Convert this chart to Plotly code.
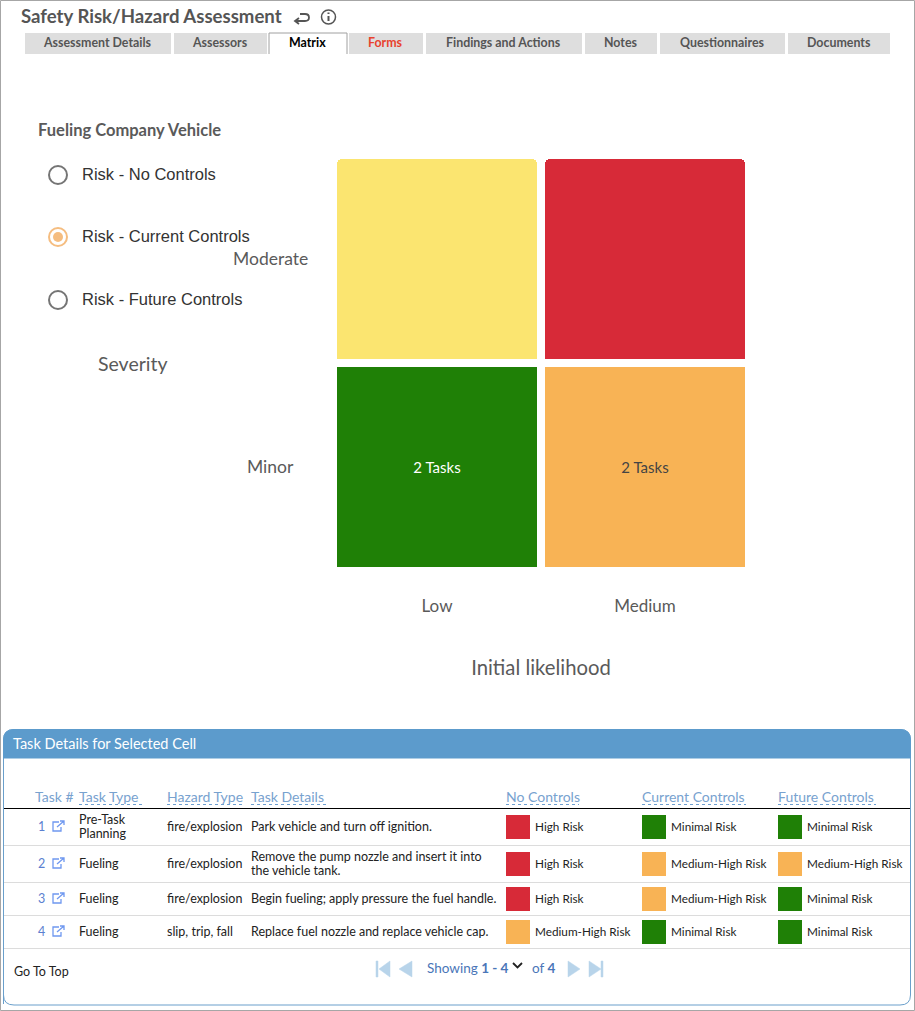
import plotly.graph_objects as go

W, H = 915, 1011
FONT = "Lato"
ARIAL = "Liberation Sans"

# matrix data
likelihood = ["Low", "Medium"]
severity = ["Minor", "Moderate"]
minor_colors = ["#1f8006", "#f8b355"]
moderate_colors = ["#fbe570", "#d72a38"]
minor_text = ["2 Tasks", "2 Tasks"]
moderate_text = ["", ""]
minor_text_colors = ["#ffffff", "#444444"]

# table data
task_numbers = ["1", "2", "3", "4"]
task_types = [["Pre-Task", "Planning"], ["Fueling"], ["Fueling"], ["Fueling"]]
hazard_types = ["fire/explosion", "fire/explosion", "fire/explosion", "slip, trip, fall"]
task_details = [
    ["Park vehicle and turn off ignition."],
    ["Remove the pump nozzle and insert it into", "the vehicle tank."],
    ["Begin fueling; apply pressure the fuel handle."],
    ["Replace fuel nozzle and replace vehicle cap."],
]
no_controls = ["High Risk", "High Risk", "High Risk", "Medium-High Risk"]
current_controls = ["Minimal Risk", "Medium-High Risk", "Medium-High Risk", "Minimal Risk"]
future_controls = ["Minimal Risk", "Medium-High Risk", "Minimal Risk", "Minimal Risk"]
risk_colors = {"High Risk": "#d72a38", "Medium-High Risk": "#f8b355", "Minimal Risk": "#1f8006"}

tabs = ["Assessment Details", "Assessors", "Matrix", "Forms", "Findings and Actions",
        "Notes", "Questionnaires", "Documents"]
tab_edges = [(25, 171), (174, 267), (269, 347), (349, 423), (426, 582), (585, 657), (660, 785), (788, 890)]
radio_labels = ["Risk - No Controls", "Risk - Current Controls", "Risk - Future Controls"]
radio_y = [175, 237, 300]
headers = ["Task #", "Task Type", "Hazard Type", "Task Details", "No Controls", "Current Controls", "Future Controls"]
header_x = [35, 79, 167, 251, 506, 642, 778]
header_w = [0, 63, 78, 76, 73, 104, 98]
row_y = [827, 864, 899, 932]
row_lines = [845, 882, 915, 948]

fig = go.Figure()

# risk matrix, bars stacked per severity
fig.add_trace(go.Bar(x=likelihood, y=[1, 1], marker=dict(color=minor_colors, cornerradius=9, line=dict(color="white", width=8)),
                     text=minor_text, textposition="inside", insidetextanchor="middle", textangle=0,
                     textfont=dict(family=FONT, size=15, color=minor_text_colors), hoverinfo="skip"))
fig.add_trace(go.Bar(x=likelihood, y=[1, 1], marker=dict(color=moderate_colors, cornerradius=9, line=dict(color="white", width=8)),
                     text=moderate_text, textposition="inside", hoverinfo="skip"))

# swatches in the table
swatch_cols = [(518, no_controls), (654, current_controls), (790, future_controls)]
for cx, col in swatch_cols:
    fig.add_trace(go.Scatter(x=[cx] * len(col), y=row_y, mode="markers", xaxis="x2", yaxis="y2", hoverinfo="skip",
                             marker=dict(symbol="square", size=24, color=[risk_colors[c] for c in col], line=dict(width=0))))

shapes = []
notes = []


def label(x, y, text, size=12.5, color="#222222", family=FONT, anchor="left"):
    notes.append(dict(x=x, y=y, xref="x2", yref="y2", text=text, showarrow=False, xanchor=anchor, yanchor="middle",
                      align="left", borderpad=0, font=dict(family=family, size=size, color=color)))


def rect(x0, y0, x1, y1, fill, line=None, width=1):
    shapes.append(dict(type="rect", x0=x0, y0=y0, x1=x1, y1=y1, xref="x2", yref="y2", fillcolor=fill,
                       line=dict(color=line or fill, width=width if line else 0)))


def path(d, color="#555555", width=1.5, fill=None):
    shapes.append(dict(type="path", path=d, xref="x2", yref="y2", fillcolor=fill,
                       line=dict(color=color, width=width)))


def hline(x0, x1, y, color, width=1, dash="solid"):
    shapes.append(dict(type="line", x0=x0, x1=x1, y0=y, y1=y, xref="x2", yref="y2", line=dict(color=color, width=width, dash=dash)))


def circle(cx, cy, r, color, width=2, fill="rgba(0,0,0,0)"):
    shapes.append(dict(type="circle", x0=cx - r, x1=cx + r, y0=cy - r, y1=cy + r, xref="x2", yref="y2",
                       fillcolor=fill, line=dict(color=color, width=width)))


# page frame
rect(0.5, 0.5, 914.5, 1010.5, "rgba(0,0,0,0)", "#a6a6a6", 1)

# page title and icons
label(20, 16, "<b>Safety Risk/Hazard Assessment</b>", 18.6, "#555555")
path("M 300 14 L 305 14 Q 309 14 309 17.5 Q 309 21 305 21 L 295 21 M 299 18 L 295 21 L 299 24", "#555555", 1.8)
circle(328.5, 17, 7, "#555555", 1.5)
path("M 328.5 16 L 328.5 21 M 328.5 12.5 L 328.5 14", "#555555", 2)

# tabs
for name, (a, b) in zip(tabs, tab_edges):
    active = name == "Matrix"
    if active:
        shapes.append(dict(type="path", path=f"M {a} 54 L {a} 33 L {b} 33 L {b} 54", xref="x2", yref="y2",
                           line=dict(color="#a0a0a0", width=1)))
    else:
        rect(a, 33, b, 54, "#dedede")
    col = "#000000" if active else ("#e8432e" if name == "Forms" else "#555555")
    notes.append(dict(x=(a + b) / 2 - 0.5, y=42, xref="x2", yref="y2", text=f"<b>{name}</b>",
                      showarrow=False, xanchor="center", yanchor="middle", font=dict(family=FONT, size=12.4, color=col)))

label(37, 129.5, "<b>Fueling Company Vehicle</b>", 16.5, "#5a5a5a")

# radio buttons
for i, (name, y) in enumerate(zip(radio_labels, radio_y)):
    picked = i == 1
    circle(58, y, 9, "#f5bd80" if picked else "#757575", 2)
    if picked:
        circle(58, y, 5, "#f5bd80", 0, "#f5bd80")
    label(81, y - 1, name, 16.5, "#333333", ARIAL)

# axis words
label(133, 363, "Severity", 19.5, "#5a5a5a", anchor="center")
label(270, 258, severity[1], 17.5, "#5a5a5a", anchor="center")
label(270, 466, severity[0], 17.5, "#5a5a5a", anchor="center")

# task panel
path("M 3.5 1004 L 3.5 740 Q 3.5 729.5 14 729.5 L 900 729.5 Q 910.5 729.5 910.5 740 L 910.5 995 Q 910.5 1005 900 1005 L 14 1005 Q 3.5 1005 3.5 995 Z",
     "#6a9fcb", 1)
path("M 3.5 758 L 3.5 740 Q 3.5 729.5 14 729.5 L 900 729.5 Q 910.5 729.5 910.5 740 L 910.5 758 Z", "#5c9bcc", 1, "#5c9bcc")
label(12, 743, "Task Details for Selected Cell", 14.5, "#ffffff")

# table header
for name, x, w in zip(headers, header_x, header_w):
    label(x - 1, 796, name, 14, "#78a2cf")
    if w:
        hline(x, x + w, 804.5, "#6f9fcf", 1, "dot")
hline(4, 910, 808.5, "#000000", 1.2)
for y in row_lines:
    hline(4, 910, y + 0.5, "#dcdcdc", 1.2)

# table rows
for i, y in enumerate(row_y):
    label(41.5, y - 0.7, task_numbers[i], 12.5, "#5b7fd0", anchor="center")
    path(f"M 59 {y - 5} L 53 {y - 5} L 53 {y + 4} L 61 {y + 4} L 61 {y} M 57 {y} L 64 {y - 6} M 60 {y - 6} L 64 {y - 6} L 64 {y - 2}", "#6f98f0", 1.3)
    for n, line in enumerate(task_types[i]):
        label(78, y - 0.7 + 7 * (2 * n - len(task_types[i]) + 1), line)
    label(166, y - 0.7, hazard_types[i])
    for n, line in enumerate(task_details[i]):
        label(250, y - 0.7 + 7 * (2 * n - len(task_details[i]) + 1), line)
    label(534, y - 1, no_controls[i], 11.75)
    label(670, y - 1, current_controls[i], 11.75)
    label(806, y - 1, future_controls[i], 11.75)

# footer and pager
label(13, 971, "Go To Top")
pager = "#b8d4ea"
path("M 376 961 L 378 961 L 378 977 L 376 977 Z M 390 961 L 390 977 L 379 969 Z", pager, 0.5, pager)
path("M 412 961 L 412 977 L 399 969 Z", pager, 0.5, pager)
path("M 568 961 L 568 977 L 580 969 Z", pager, 0.5, pager)
path("M 589 961 L 589 977 L 601 969 Z M 601 961 L 603 961 L 603 977 L 601 977 Z", pager, 0.5, pager)
label(426, 968, "Showing <b>1 - 4</b>", 13.5, "#4a76b8")
path("M 513 963 L 517.5 967.5 L 522 963", "#222222", 1.8)
label(531, 968, "of <b>4</b>", 13.5, "#4a76b8")

fig.update_layout(
    width=W, height=H, barmode="stack", bargap=0, showlegend=False,
    margin=dict(l=0, r=0, t=0, b=0), paper_bgcolor="white", plot_bgcolor="rgba(0,0,0,0)",
    font=dict(family=FONT),
    shapes=shapes, annotations=notes,
    xaxis=dict(domain=[333 / W, 749 / W], type="category", categoryorder="array", categoryarray=likelihood, showgrid=False, zeroline=False,
               showline=False, ticks="", ticklabelstandoff=23, tickfont=dict(family=FONT, size=17, color="#5a5a5a"),
               title=dict(text="Initial likelihood", standoff=45, font=dict(family=FONT, size=20.3, color="#5a5a5a")), anchor="y", fixedrange=True),
    yaxis=dict(domain=[1 - 571 / H, 1 - 155 / H], range=[0, 2], showgrid=False, zeroline=False, showline=False,
               showticklabels=False, ticks="", anchor="x", fixedrange=True),
    xaxis2=dict(domain=[0, 1], range=[0, W], visible=False, anchor="y2", fixedrange=True),
    yaxis2=dict(domain=[0, 1], range=[H, 0], visible=False, anchor="x2", fixedrange=True),
)

fig.write_html("out.html", config=dict(displayModeBar=False), post_script="document.body.style.margin='0';")
